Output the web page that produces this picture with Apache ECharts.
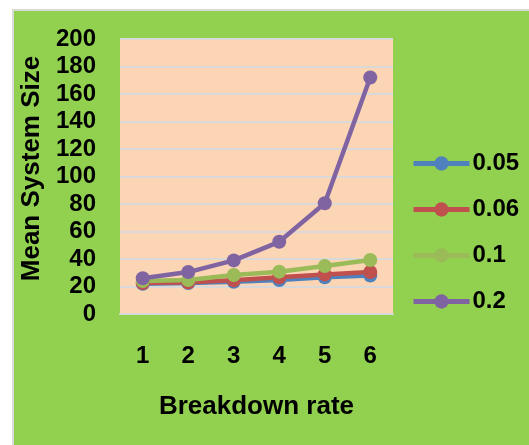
<!DOCTYPE html>
<html>
<head>
<meta charset="utf-8">
<script src="https://cdn.jsdelivr.net/npm/echarts@6/dist/echarts.min.js"></script>
<style>
  html, body { margin: 0; padding: 0; background: #ffffff; }
  #chart { width: 529px; height: 445px; }
</style>
</head>
<body>
<div id="chart"></div>
<script>
// Breakdown rate categories on the x axis
const categories = ['1', '2', '3', '4', '5', '6'];

// Series names (one line per rate)
const seriesNames = ['0.05', '0.06', '0.1', '0.2'];

// Mean system size for each series
const s005 = [22, 22.5, 23.5, 24.7, 26.7, 28];
const s006 = [22.5, 23, 24.5, 26.7, 28.8, 30.5];
const s01  = [24, 24.7, 28.4, 30.8, 34.9, 39.3];
const s02  = [26, 30.5, 39, 52.5, 80.5, 172];

const seriesData = [s005, s006, s01, s02];
const colors = ['#4F81BD', '#C0504D', '#9BBB59', '#8064A2'];

const chart = echarts.init(document.getElementById('chart'), null, { renderer: 'canvas' });

const font = 'Liberation Sans, Arial, sans-serif';

chart.setOption({
  backgroundColor: '#ffffff',
  animation: false,
  graphic: [{
    type: 'rect',
    z: -10,
    silent: true,
    shape: { x: 13, y: 10, width: 520, height: 440 },
    style: { fill: '#92D050', stroke: '#D9D9D9', lineWidth: 2 }
  }],
  grid: {
    left: 120, top: 39, width: 273, height: 275,
    show: true,
    backgroundColor: '#FCD5B4',
    borderWidth: 0
  },
  legend: {
    orient: 'vertical',
    left: 411,
    top: 150,
    padding: 0,
    itemWidth: 56,
    itemHeight: 18,
    itemGap: 19,
    data: seriesNames,
    lineStyle: { width: 5 },
    textStyle: { fontFamily: font, fontWeight: 'bold', fontSize: 24, color: '#000', lineHeight: 27, padding: [0, 0, 0, -2] }
  },
  xAxis: {
    type: 'category',
    data: categories,
    boundaryGap: true,
    name: 'Breakdown rate',
    nameLocation: 'middle',
    nameGap: 80,
    nameTextStyle: { fontFamily: font, fontWeight: 'bold', fontSize: 26, color: '#000' },
    axisLine: { show: true, lineStyle: { color: '#D9D9D9', width: 2 } },
    axisTick: { show: false },
    axisLabel: { margin: 30, fontFamily: font, fontWeight: 'bold', fontSize: 24, color: '#000' },
    splitLine: { show: false }
  },
  yAxis: {
    type: 'value',
    min: 0,
    max: 200,
    interval: 20,
    name: 'Mean System Size',
    nameLocation: 'middle',
    nameRotate: 90,
    nameGap: 73,
    nameTextStyle: { fontFamily: font, fontWeight: 'bold', fontSize: 26, color: '#000', padding: [0, 0, 0, 16] },
    axisLine: { show: false },
    axisTick: { show: false },
    axisLabel: { margin: 24, fontFamily: font, fontWeight: 'bold', fontSize: 24, color: '#000' },
    splitLine: { show: true, lineStyle: { color: '#D9D9D9', width: 2 } }
  },
  series: seriesNames.map((name, i) => ({
    name: name,
    type: 'line',
    data: seriesData[i],
    symbol: 'circle',
    symbolSize: 14,
    color: colors[i],
    lineStyle: { width: 4.5, color: colors[i] },
    itemStyle: { color: colors[i] }
  }))
});
</script>
</body>
</html>
